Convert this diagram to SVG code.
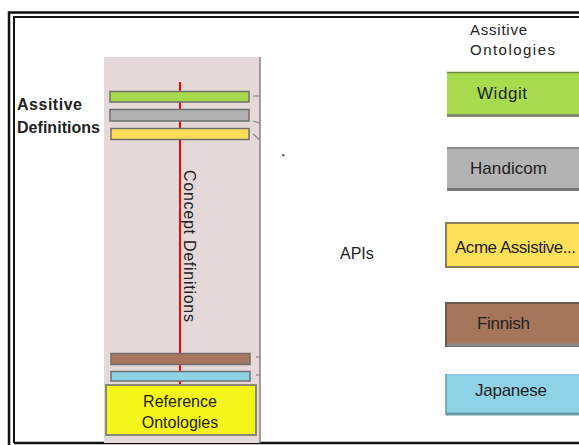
<svg xmlns="http://www.w3.org/2000/svg" width="579" height="445" viewBox="0 0 579 445">
<style>
text{font-family:"Liberation Sans",Arial,sans-serif;fill:#222}
.lbl{font-size:17px}
.bar{stroke:#6f6f6f;stroke-width:1.5}
.box{stroke-width:2}
.tick{stroke:#888;stroke-width:1.2;fill:none}
</style>
<rect width="579" height="445" fill="#fff"/>
<g id="frame" fill="none" stroke="#111">
<path d="M9,445 V12.5 H579" stroke-width="2.5"/>
<path d="M14,443 V17 H579" stroke-width="2"/>
<path d="M14,443 H579" stroke-width="2.5"/>
</g>
<g id="panel">
<rect x="104" y="57" width="156" height="386" fill="#e5d8d8"/>
<line x1="260" y1="57" x2="260" y2="443" stroke="#8a8080" stroke-width="1.5"/>
<line x1="180" y1="82" x2="180" y2="385" stroke="#f00" stroke-width="2"/>
<text transform="translate(184,246) rotate(90)" text-anchor="middle" font-size="16" textLength="152">Concept Definitions</text>
</g>
<g id="bars">
<rect class="bar" x="110" y="91.5" width="139" height="10.5" fill="#a8d84c"/>
<rect class="bar" x="110" y="109.5" width="139" height="11.5" fill="#b0b0b0"/>
<rect class="bar" x="111" y="128.5" width="138" height="11" fill="#ffdc5a"/>
<rect class="bar" x="111" y="353.5" width="139" height="11" fill="#a8765e"/>
<rect class="bar" x="111" y="371.5" width="139" height="9.5" fill="#8dd3e5"/>
</g>
<g id="ticks">
<line class="tick" x1="253" y1="96" x2="260" y2="96"/>
<line class="tick" x1="253" y1="121" x2="260" y2="123"/>
<line class="tick" x1="253" y1="134" x2="260" y2="140"/>
<line class="tick" x1="256" y1="357" x2="261" y2="357"/>
<line class="tick" x1="256" y1="375" x2="261" y2="375"/>
</g>
<g id="reference-ontologies">
<rect class="box" x="106" y="385" width="150" height="50" fill="#f5f51a" stroke="#8a8a70"/>
<text x="180" y="407" text-anchor="middle" font-size="16">Reference</text>
<text x="180" y="428" text-anchor="middle" font-size="16">Ontologies</text>
</g>
<g id="assitive-definitions-label">
<text x="17" y="110" font-size="16" font-weight="bold" textLength="65">Assitive</text>
<text x="17" y="133" font-size="16" font-weight="bold" textLength="83">Definitions</text>
</g>
<g id="assitive-ontologies-label">
<text x="470" y="35" font-size="15" textLength="57">Assitive</text>
<text x="470" y="55" font-size="15" textLength="85">Ontologies</text>
</g>
<g id="apis-label">
<text x="340" y="259" font-size="16">APIs</text>
</g>
<rect x="282" y="154" width="2.5" height="2.5" fill="#777"/>
<g id="widgit">
<rect x="447" y="72" width="140" height="45" fill="#a8dc4e"/>
<line x1="447" y1="72.5" x2="579" y2="72.5" stroke="#6d8a40" stroke-width="1.5"/>
<line x1="447" y1="115.5" x2="579" y2="115.5" stroke="#7f8a70" stroke-width="3"/>
<text class="lbl" x="477" y="99" textLength="50">Widgit</text>
</g>
<g id="handicom">
<rect x="447" y="147" width="140" height="44" fill="#b3b3b3"/>
<line x1="447" y1="148" x2="579" y2="148" stroke="#8a8a8a" stroke-width="2"/>
<line x1="447" y1="189.5" x2="579" y2="189.5" stroke="#777" stroke-width="3"/>
<text class="lbl" x="470" y="174" textLength="77">Handicom</text>
</g>
<g id="acme">
<rect x="446" y="223" width="140" height="44" fill="#ffe05a" stroke="#8a7f5a" stroke-width="2"/>
<text class="lbl" x="455" y="253" font-size="16" textLength="121">Acme Assistive...</text>
</g>
<g id="finnish">
<rect x="446" y="303" width="140" height="43" fill="#a6765c" stroke="#6a5a50" stroke-width="2"/>
<line x1="447" y1="345" x2="579" y2="345" stroke="#888" stroke-width="3"/>
<text class="lbl" x="477" y="329" textLength="53">Finnish</text>
</g>
<g id="japanese">
<rect x="446" y="374" width="140" height="41" fill="#8dd3e5"/>
<line x1="446" y1="374" x2="446" y2="415" stroke="#5f9aa5" stroke-width="1.5"/>
<line x1="446" y1="414" x2="579" y2="414" stroke="#6a9ea8" stroke-width="3"/>
<text class="lbl" x="475" y="396" textLength="72">Japanese</text>
</g>
</svg>
